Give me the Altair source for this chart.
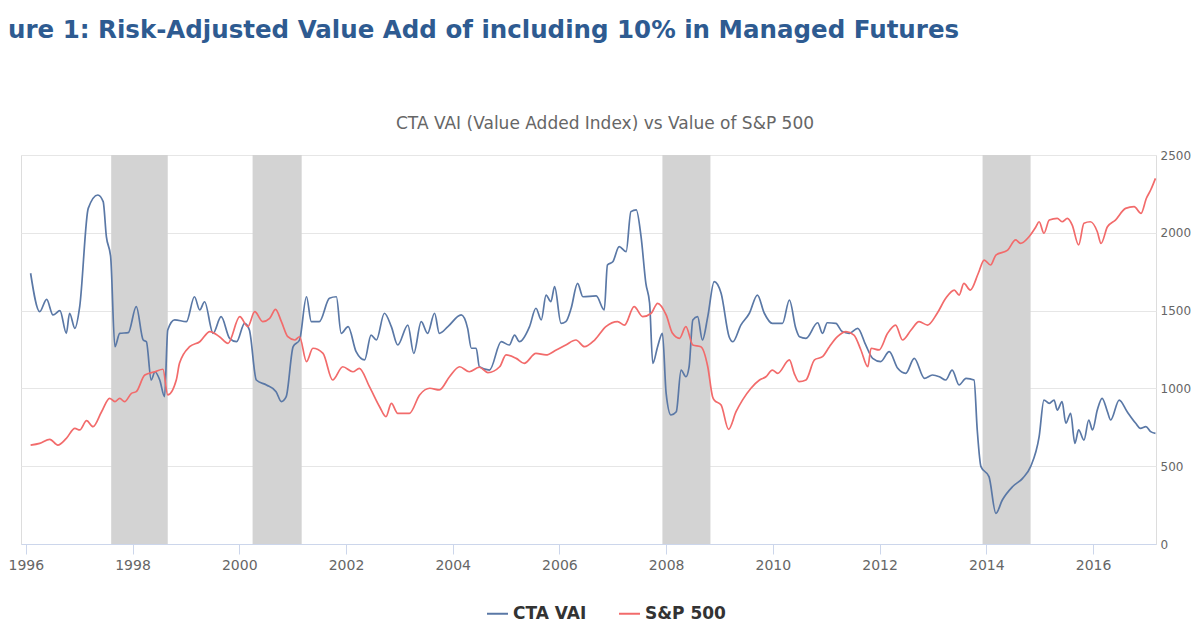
import altair as alt
import pandas as pd

# ---------------- data ----------------
vai_year = [1996.09, 1996.26, 1996.39, 1996.51, 1996.64, 1996.76, 1996.82, 1996.92, 1997.01, 1997.17,
            1997.35, 1997.45, 1997.51, 1997.59, 1997.67, 1997.76, 1997.92, 1998.07, 1998.20, 1998.26,
            1998.35, 1998.42, 1998.51, 1998.60, 1998.66, 1998.79, 1999.01, 1999.16, 1999.26, 1999.35,
            1999.51, 1999.66, 1999.82, 1999.95, 2000.10, 2000.19, 2000.32, 2000.51, 2000.69, 2000.79,
            2000.88, 2001.01, 2001.13, 2001.26, 2001.35, 2001.50, 2001.69, 2001.82, 2001.91, 2002.04,
            2002.19, 2002.35, 2002.47, 2002.57, 2002.72, 2002.85, 2002.97, 2003.16, 2003.27, 2003.41,
            2003.53, 2003.66, 2003.75, 2003.91, 2004.16, 2004.28, 2004.35, 2004.44, 2004.50, 2004.69,
            2004.91, 2005.06, 2005.16, 2005.25, 2005.44, 2005.56, 2005.66, 2005.75, 2005.84, 2005.91,
            2006.03, 2006.12, 2006.22, 2006.34, 2006.44, 2006.69, 2006.84, 2006.90, 2007.00, 2007.12,
            2007.25, 2007.34, 2007.44, 2007.53, 2007.62, 2007.69, 2007.75, 2007.84, 2007.93, 2008.00,
            2008.09, 2008.19, 2008.28, 2008.37, 2008.43, 2008.50, 2008.59, 2008.68, 2008.78, 2008.90,
            2009.03, 2009.18, 2009.25, 2009.40, 2009.56, 2009.71, 2009.84, 2009.99, 2010.18, 2010.31,
            2010.43, 2010.50, 2010.62, 2010.84, 2010.93, 2011.02, 2011.18, 2011.30, 2011.43, 2011.59,
            2011.74, 2011.87, 2012.02, 2012.18, 2012.34, 2012.49, 2012.65, 2012.84, 2012.99, 2013.12,
            2013.24, 2013.36, 2013.49, 2013.62, 2013.77, 2013.83, 2013.90, 2014.05, 2014.18, 2014.30,
            2014.49, 2014.68, 2014.83, 2014.99, 2015.08, 2015.18, 2015.27, 2015.33, 2015.42, 2015.49,
            2015.58, 2015.66, 2015.73, 2015.83, 2015.92, 2015.99, 2016.08, 2016.17, 2016.27, 2016.33,
            2016.49, 2016.64, 2016.80, 2016.89, 2016.99, 2017.08, 2017.17]
vai_value = [1740, 1493, 1572, 1472, 1500, 1354, 1483, 1386, 1525, 2157,
             2243, 2200, 1975, 1846, 1268, 1354, 1358, 1525, 1311, 1300,
             1054, 1107, 1054, 947, 1375, 1440, 1429, 1589, 1504, 1557,
             1354, 1461, 1322, 1300, 1418, 1375, 1054, 1022, 979, 915,
             947, 1268, 1311, 1589, 1429, 1429, 1579, 1589, 1354, 1397,
             1236, 1183, 1343, 1311, 1483, 1397, 1279, 1407, 1225, 1429,
             1354, 1483, 1354, 1397, 1472, 1386, 1258, 1258, 1139, 1118,
             1300, 1279, 1343, 1300, 1397, 1515, 1440, 1600, 1557, 1654,
             1418, 1429, 1515, 1675, 1589, 1594, 1504, 1793, 1814, 1911,
             1879, 2136, 2147, 1975, 1675, 1547, 1161, 1268, 1354, 968,
             829, 850, 1118, 1075, 1139, 1440, 1461, 1311, 1461, 1686,
             1611, 1332, 1300, 1407, 1483, 1600, 1483, 1418, 1418, 1568,
             1386, 1332, 1322, 1422, 1354, 1422, 1418, 1365, 1354, 1386,
             1279, 1193, 1172, 1236, 1129, 1097, 1193, 1065, 1086, 1075,
             1054, 1118, 1022, 1065, 1054, 733, 497, 433, 197, 283,
             368, 422, 497, 690, 925, 904, 925, 861, 915, 776,
             840, 647, 733, 668, 797, 733, 861, 936, 850, 797,
             925, 850, 776, 743, 754, 722, 711]

sp_year = [1996.09, 1996.26, 1996.45, 1996.60, 1996.76, 1996.92, 1997.01, 1997.14, 1997.26, 1997.42,
           1997.57, 1997.67, 1997.76, 1997.85, 1997.98, 1998.07, 1998.23, 1998.42, 1998.57, 1998.66,
           1998.82, 1998.88, 1999.07, 1999.26, 1999.45, 1999.63, 1999.79, 2000.01, 2000.16, 2000.29,
           2000.44, 2000.57, 2000.68, 2000.79, 2000.91, 2001.04, 2001.13, 2001.26, 2001.38, 2001.57,
           2001.75, 2001.94, 2002.13, 2002.25, 2002.44, 2002.63, 2002.75, 2002.85, 2002.97, 2003.19,
           2003.38, 2003.57, 2003.75, 2003.94, 2004.13, 2004.31, 2004.50, 2004.66, 2004.88, 2005.00,
           2005.19, 2005.34, 2005.56, 2005.75, 2005.94, 2006.12, 2006.31, 2006.47, 2006.66, 2006.87,
           2007.09, 2007.22, 2007.40, 2007.56, 2007.72, 2007.84, 2008.00, 2008.12, 2008.25, 2008.37,
           2008.50, 2008.65, 2008.78, 2008.87, 2008.90, 2009.03, 2009.17, 2009.31, 2009.43, 2009.59,
           2009.75, 2009.87, 2009.99, 2010.09, 2010.31, 2010.40, 2010.49, 2010.62, 2010.78, 2010.93,
           2011.06, 2011.21, 2011.37, 2011.52, 2011.65, 2011.78, 2011.84, 2011.99, 2012.15, 2012.30,
           2012.43, 2012.59, 2012.74, 2012.90, 2013.08, 2013.24, 2013.40, 2013.49, 2013.58, 2013.70,
           2013.85, 2013.96, 2014.08, 2014.18, 2014.40, 2014.55, 2014.64, 2014.80, 2014.93, 2014.99,
           2015.08, 2015.18, 2015.33, 2015.42, 2015.52, 2015.61, 2015.73, 2015.83, 2015.95, 2016.08,
           2016.15, 2016.27, 2016.42, 2016.61, 2016.77, 2016.90, 2017.00, 2017.08, 2017.17]
sp_value = [636, 647, 673, 636, 679, 743, 733, 793, 754, 850,
            936, 915, 936, 915, 968, 979, 1086, 1107, 1123, 958,
            1054, 1161, 1268, 1300, 1365, 1332, 1290, 1461, 1397, 1493,
            1429, 1450, 1508, 1429, 1332, 1311, 1332, 1172, 1258, 1225,
            1054, 1139, 1107, 1129, 1011, 882, 818, 904, 840, 840,
            958, 1001, 990, 1075, 1139, 1107, 1136, 1101, 1139, 1215,
            1193, 1161, 1225, 1215, 1247, 1279, 1311, 1268, 1311, 1397,
            1429, 1407, 1525, 1461, 1483, 1547, 1472, 1354, 1322, 1397,
            1279, 1268, 1139, 947, 925, 893, 737, 850, 925, 1001,
            1054, 1075, 1118, 1097, 1183, 1097, 1043, 1054, 1183, 1204,
            1268, 1332, 1365, 1343, 1247, 1139, 1258, 1247, 1354, 1407,
            1311, 1375, 1429, 1407, 1483, 1579, 1632, 1600, 1675, 1632,
            1740, 1825, 1793, 1857, 1889, 1954, 1932, 1975, 2039, 2071,
            1997, 2082, 2093, 2071, 2093, 2050, 1922, 2061, 2071, 2007,
            1932, 2039, 2082, 2157, 2168, 2125, 2222, 2275, 2350]

band_start = [1997.60, 2000.25, 2007.93, 2013.93]
band_end = [1998.66, 2001.17, 2008.83, 2014.83]

series_names = ["CTA VAI", "S&P 500"]
series_colors = ["#5a78a6", "#f26b6b"]
x_ticks = [1996, 1998, 2000, 2002, 2004, 2006, 2008, 2010, 2012, 2014, 2016]
y_ticks = [0, 500, 1000, 1500, 2000, 2500]

title_text = "ure 1: Risk-Adjusted Value Add of including 10% in Managed Futures"
subtitle_text = "CTA VAI (Value Added Index) vs Value of S&P 500"

# ---------------- tables ----------------
lines_df = pd.concat([
    pd.DataFrame({"year": vai_year, "value": vai_value, "series": series_names[0]}),
    pd.DataFrame({"year": sp_year, "value": sp_value, "series": series_names[1]}),
], ignore_index=True)
bands_df = pd.DataFrame({"start": band_start, "end": band_end})

PAD_L, PAD_R = 13, 36
W, H = 1184 - PAD_L - PAD_R, 389
x_scale = alt.Scale(domain=[1995.91, 2017.18], nice=False, zero=False)
y_scale = alt.Scale(domain=[0, 2500], nice=False)

bands = alt.Chart(bands_df).mark_rect(color="#d3d3d3").encode(
    x=alt.X("start:Q", scale=x_scale,
            axis=alt.Axis(values=x_ticks, format="d", title=None, grid=False,
                          domainColor="#ccd6eb", tickColor="#ccd6eb", tickSize=10,
                          labelColor="#666666", labelFontSize=14, labelFont="DejaVu Sans",
                          labelPadding=4)),
    x2="end:Q",
    y=alt.value(0),
    y2=alt.value(H),
)

lines = alt.Chart(lines_df).mark_line(strokeWidth=1.7, interpolate="monotone").encode(
    x=alt.X("year:Q", scale=x_scale),
    y=alt.Y("value:Q", scale=y_scale,
            axis=alt.Axis(orient="right", values=y_ticks, format="d", title=None, grid=True,
                          gridColor="#e6e6e6", domain=False, ticks=False,
                          labelColor="#666666", labelFontSize=12, labelFont="DejaVu Sans",
                          labelAlign="left", labelPadding=4)),
    color=alt.Color("series:N",
                    scale=alt.Scale(domain=series_names, range=series_colors),
                    legend=alt.Legend(title=None, orient="none", legendX=465, legendY=447,
                                      direction="horizontal", symbolType="stroke",
                                      symbolStrokeWidth=2, symbolSize=440,
                                      labelFont="DejaVu Sans", labelFontSize=17,
                                      labelFontWeight="bold", labelColor="#333333",
                                      columnPadding=28, padding=0)),
    order=alt.Order("year:Q"),
)

title = alt.Chart(pd.DataFrame({"t": [title_text]})).mark_text(
    align="left", baseline="alphabetic", font="DejaVu Sans", fontSize=24.5,
    fontWeight="bold", color="#2e5b91"
).encode(text="t:N", x=alt.value(-PAD_L), y=alt.value(-117))

subtitle = alt.Chart(pd.DataFrame({"t": [subtitle_text]})).mark_text(
    align="center", baseline="middle", font="DejaVu Sans", fontSize=17,
    color="#666666"
).encode(text="t:N", x=alt.value(584), y=alt.value(-31))

chart = alt.layer(bands, lines, title, subtitle).properties(
    width=W, height=H,
    autosize=alt.AutoSizeParams(type="none"),
    padding={"left": PAD_L, "top": 147, "right": PAD_R, "bottom": 84},
).configure_view(stroke=None).configure(background="white")

chart.save("out.html", embed_options={"renderer": "svg", "actions": False})
